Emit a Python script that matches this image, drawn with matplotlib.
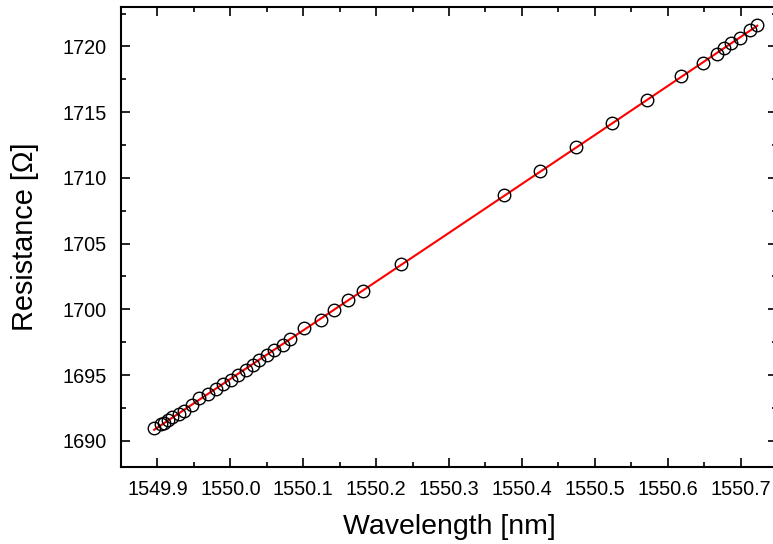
import numpy as np
import matplotlib
matplotlib.use("Agg")
import matplotlib.pyplot as plt
from matplotlib.ticker import MultipleLocator

plt.rcParams["font.family"] = ["Liberation Sans", "DejaVu Sans"]

# measured points (wavelength in nm, resistance in ohm)
wavelength = [
    1549.8955, 1549.905, 1549.9096, 1549.915, 1549.9206, 1549.929, 1549.936,
    1549.947, 1549.9576, 1549.969, 1549.980, 1549.9906, 1550.0009, 1550.010,
    1550.021, 1550.031, 1550.040, 1550.050, 1550.060, 1550.072, 1550.0825,
    1550.1017, 1550.1246, 1550.1429, 1550.162, 1550.1827, 1550.2344,
    1550.3757, 1550.4251, 1550.4745, 1550.5234, 1550.5714, 1550.618,
    1550.6479, 1550.6675, 1550.6771, 1550.6872, 1550.6996, 1550.7128, 1550.7229,
]
resistance = [
    1690.97, 1691.27, 1691.35, 1691.55, 1691.77, 1692.03, 1692.28,
    1692.74, 1693.25, 1693.58, 1693.94, 1694.32, 1694.64, 1695.03,
    1695.41, 1695.73, 1696.14, 1696.55, 1696.93, 1697.31, 1697.74,
    1698.55, 1699.21, 1699.92, 1700.74, 1701.42, 1703.45,
    1708.73, 1710.54, 1712.33, 1714.14, 1715.91, 1717.74,
    1718.73, 1719.45, 1719.85, 1720.25, 1720.61, 1721.22, 1721.60,
]

x = np.array(wavelength)
y = np.array(resistance)
# quadratic fit through the points
coef = np.polyfit(x - x.mean(), y, 2)
xf = np.linspace(x.min(), x.max(), 300)
yf = np.polyval(coef, xf - x.mean())

fig = plt.figure(figsize=(7.73, 5.44), dpi=100)
ax = fig.add_axes([0.1565, 0.1415, 0.8487, 0.8456])

ax.plot(xf, yf, color="red", lw=1.5, zorder=2)
ax.plot(x, y, "o", ms=9, mfc="none", mec="black", mew=1.0, zorder=3)

ax.set_xlim(1549.85, 1550.75)
ax.set_ylim(1688, 1723)
ax.xaxis.set_major_locator(MultipleLocator(0.1))
ax.xaxis.set_minor_locator(MultipleLocator(0.05))
ax.yaxis.set_major_locator(MultipleLocator(5))
ax.yaxis.set_minor_locator(MultipleLocator(2.5))
ax.xaxis.set_major_formatter(plt.FuncFormatter(lambda v, p: f"{v:.1f}"))

ax.tick_params(which="both", direction="in", top=True, right=True, width=1.2)
ax.tick_params(which="major", length=6.5)
ax.tick_params(which="minor", length=3.8)
ax.tick_params(axis="x", which="major", pad=9, labelsize=14.3)
ax.tick_params(axis="y", which="major", pad=10, labelsize=14.3)
for s in ax.spines.values():
    s.set_linewidth(1.5)

ax.set_xlabel("Wavelength [nm]", fontsize=20.5, labelpad=11)
ax.set_ylabel("Resistance [\u03a9]", fontsize=20.8, labelpad=17)

fig.savefig("out.png", dpi=100)
